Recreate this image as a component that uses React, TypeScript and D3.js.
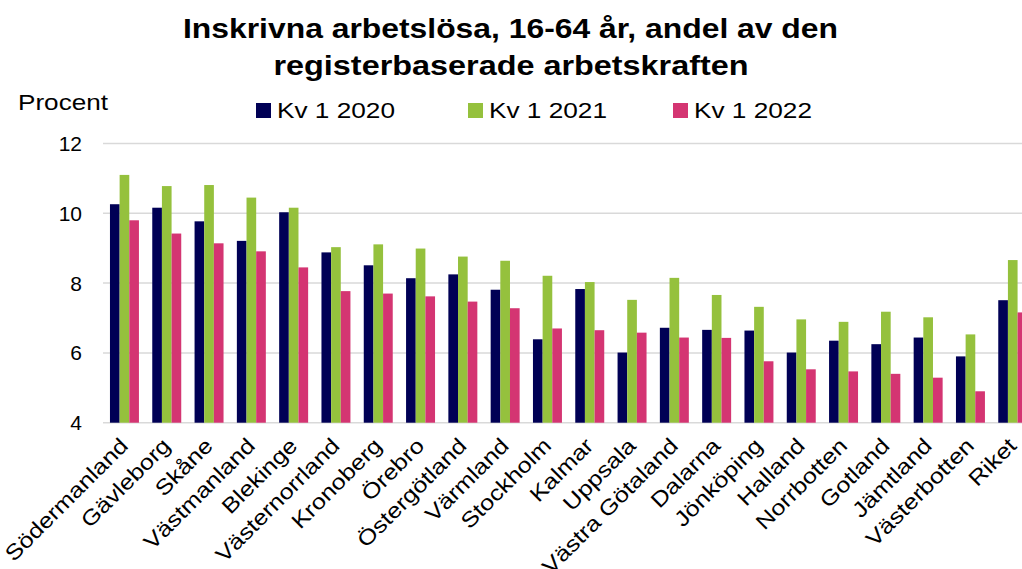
import React from "react";
import * as d3 from "d3";

const categories = [
  "Södermanland", "Gävleborg", "Skåne", "Västmanland", "Blekinge", "Västernorrland",
  "Kronoberg", "Örebro", "Östergötland", "Värmland", "Stockholm", "Kalmar", "Uppsala",
  "Västra Götaland", "Dalarna", "Jönköping", "Halland", "Norrbotten", "Gotland",
  "Jämtland", "Västerbotten", "Riket",
];
const kv2020 = [10.26, 10.16, 9.77, 9.21, 10.03, 8.88, 8.51, 8.14, 8.25, 7.81, 6.39, 7.83, 6.01, 6.72, 6.66, 6.64, 6.01, 6.35, 6.25, 6.44, 5.9, 7.51];
const kv2021 = [11.1, 10.78, 10.81, 10.45, 10.16, 9.03, 9.11, 8.99, 8.76, 8.64, 8.21, 8.03, 7.52, 8.15, 7.66, 7.32, 6.96, 6.89, 7.18, 7.02, 6.53, 8.66];
const kv2022 = [9.8, 9.42, 9.14, 8.91, 8.45, 7.77, 7.7, 7.62, 7.47, 7.28, 6.7, 6.65, 6.58, 6.44, 6.43, 5.76, 5.53, 5.47, 5.4, 5.29, 4.9, 7.16];
const seriesNames = ["Kv 1 2020", "Kv 1 2021", "Kv 1 2022"];
const seriesColors = ["#000055", "#95c13d", "#d43572"];
const yTicks = [4, 6, 8, 10, 12];

const W = 1022;
const H = 569;
const FONT = "'Liberation Sans', Arial, sans-serif";

export default function App() {
  const series = [kv2020, kv2021, kv2022];
  const x0 = d3
    .scaleBand<string>()
    .domain(categories)
    .range([103.3, 1033.9])
    .paddingInner(0.315)
    .paddingOuter(0.1575);
  const x1 = d3
    .scaleBand<string>()
    .domain(seriesNames)
    .range([0, x0.bandwidth()])
    .padding(0);
  const y = d3.scaleLinear().domain([4, 12]).range([422.7, 143.5]);

  const legendX = [256, 468, 673];

  return (
    <svg
      width={W}
      height={H}
      style={{ position: "absolute", left: 0, top: 0, background: "#fff" }}
      fontFamily={FONT}
    >
      <text x={183} y={38} fontSize={28} fontWeight="bold" fill="#000"
        textLength={655} lengthAdjust="spacingAndGlyphs">
        Inskrivna arbetslösa, 16-64 år, andel av den
      </text>
      <text x={511} y={75} textAnchor="middle" fontSize={28} fontWeight="bold" fill="#000"
        textLength={475} lengthAdjust="spacingAndGlyphs">
        registerbaserade arbetskraften
      </text>
      <text x={18} y={110} fontSize={21.5} fill="#000" textLength={90} lengthAdjust="spacingAndGlyphs">Procent</text>

      {seriesNames.map((s, i) => (
        <g key={s}>
          <rect x={legendX[i]} y={103} width={15} height={15} fill={seriesColors[i]} />
          <text x={legendX[i] + 21} y={118} fontSize={21.5} fill="#000"
            textLength={118} lengthAdjust="spacingAndGlyphs">{s}</text>
        </g>
      ))}

      {yTicks.map((t) => (
        <g key={t}>
          <line x1={103} x2={W} y1={y(t)} y2={y(t)} stroke="#d9d9d9" strokeWidth={1.5} />
          <text x={82} y={y(t) + 7.5} textAnchor="end" fontSize={21} fill="#000">
            {t}
          </text>
        </g>
      ))}

      {categories.map((c, ci) => (
        <g key={c} transform={`translate(${x0(c)},0)`}>
          {seriesNames.map((s, si) => {
            const v = series[si][ci];
            return (
              <rect
                key={s}
                x={x1(s)}
                y={y(v)}
                width={x1.bandwidth()}
                height={y(4) - y(v)}
                fill={seriesColors[si]}
              />
            );
          })}
        </g>
      ))}

      {categories.map((c) => {
        const cx = (x0(c) as number) + x0.bandwidth() / 2 + 5;
        return (
          <text
            key={c}
            transform={`translate(${cx},${447}) rotate(-45) scale(1.17,1)`}
            textAnchor="end"
            fontSize={21.5}
            fill="#000"
          >
            {c}
          </text>
        );
      })}
    </svg>
  );
}
